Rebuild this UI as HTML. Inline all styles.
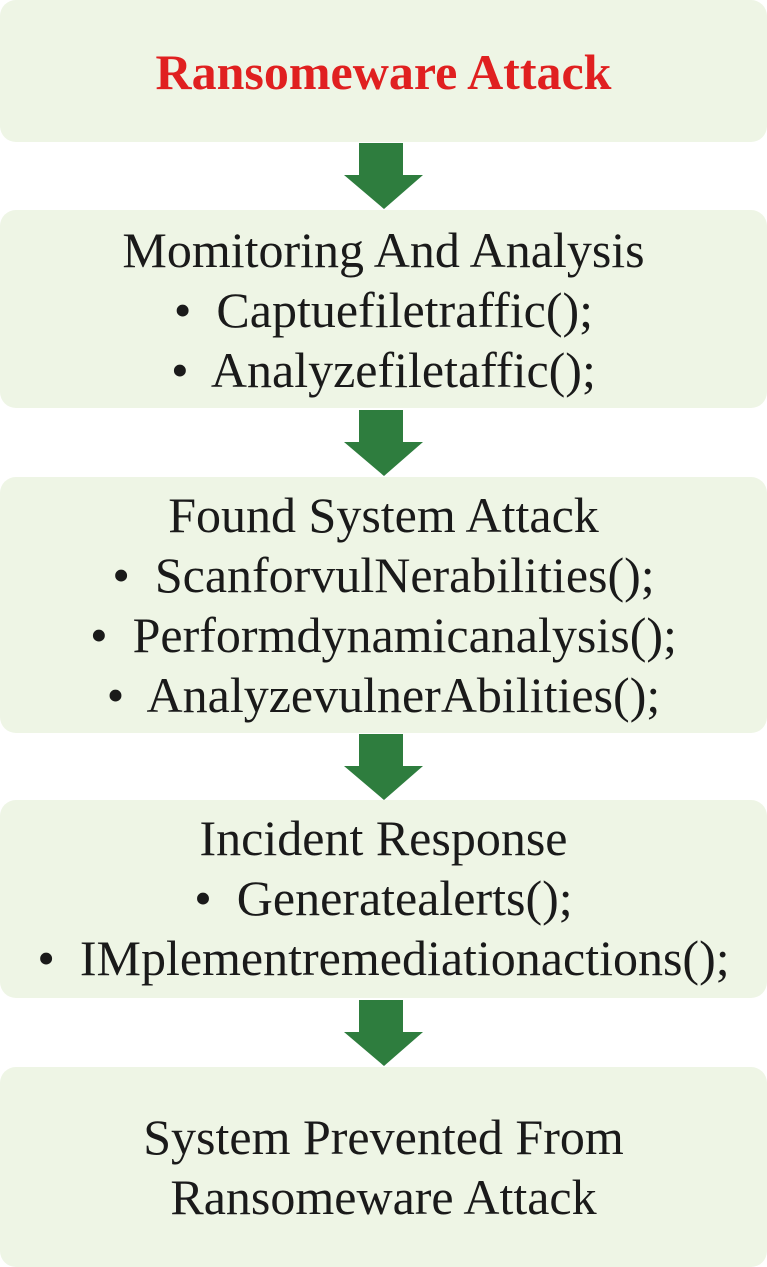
<!DOCTYPE html>
<html><head><style>
body{margin:0;width:767px;height:1267px;background:#fff;position:relative;overflow:hidden;font-family:"Liberation Serif",serif;}
.b{position:absolute;left:0;width:767px;background:#eef5e5;border-radius:16px;}
.t{position:absolute;left:-50px;width:867px;text-align:center;font-size:50px;line-height:60px;color:#1a1a1a;white-space:nowrap;}
.a{position:absolute;left:344px;width:80px;height:67px;}
</style></head><body>
<div class="b" style="top:0;height:142px"></div>
<div class="b" style="top:210px;height:198px"></div>
<div class="b" style="top:477px;height:256px"></div>
<div class="b" style="top:800px;height:198px"></div>
<div class="b" style="top:1067px;height:200px"></div>

<svg class="a" style="top:143px" viewBox="0 0 80 67"><polygon points="15,0 59,0 59,32 79,32 40,66 0,32 15,32" fill="#2e7d3e"/></svg>
<svg class="a" style="top:410px" viewBox="0 0 80 67"><polygon points="15,0 59,0 59,32 79,32 40,66 0,32 15,32" fill="#2e7d3e"/></svg>
<svg class="a" style="top:734px" viewBox="0 0 80 67"><polygon points="15,0 59,0 59,32 79,32 40,66 0,32 15,32" fill="#2e7d3e"/></svg>
<svg class="a" style="top:1000px" viewBox="0 0 80 67"><polygon points="15,0 59,0 59,32 79,32 40,66 0,32 15,32" fill="#2e7d3e"/></svg>

<div class="t" style="top:42px;color:#e02020;font-weight:bold;">Ransomeware Attack</div>

<div class="t" style="top:220px">Momitoring And Analysis<br>•&nbsp; Captuefiletraffic();<br>•&nbsp; Analyzefiletaffic();</div>
<div class="t" style="top:485px">Found System Attack<br>•&nbsp; ScanforvulNerabilities();<br>•&nbsp; Performdynamicanalysis();<br>•&nbsp; AnalyzevulnerAbilities();</div>
<div class="t" style="top:808px">Incident Response<br>•&nbsp; Generatealerts();<br>•&nbsp; IMplementremediationactions();</div>
<div class="t" style="top:1107px">System Prevented From<br>Ransomeware Attack</div>
</body></html>
